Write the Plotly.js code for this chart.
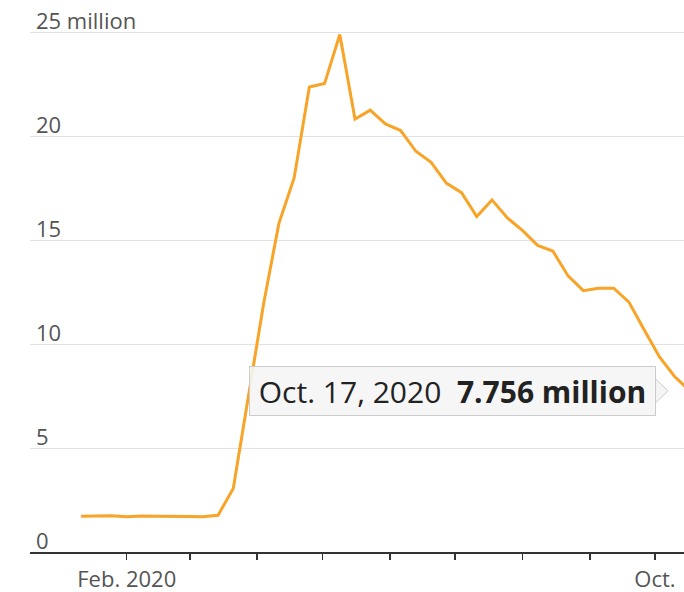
<!DOCTYPE html>
<html>
<head>
<meta charset="utf-8">
<script src="https://cdn.plot.ly/plotly-3.0.1.min.js"></script>
<style>
  html, body { margin: 0; padding: 0; background: #ffffff; }
  #chart { width: 684px; height: 592px; }
</style>
</head>
<body>
<div id="chart"></div>
<script>
// Weekly data (week ending), millions
var weeks = [
  "2020-01-11","2020-01-18","2020-01-25","2020-02-01","2020-02-08","2020-02-15","2020-02-22","2020-02-29",
  "2020-03-07","2020-03-14","2020-03-21","2020-03-28","2020-04-04","2020-04-11","2020-04-18","2020-04-25",
  "2020-05-02","2020-05-09","2020-05-16","2020-05-23","2020-05-30","2020-06-06","2020-06-13","2020-06-20",
  "2020-06-27","2020-07-04","2020-07-11","2020-07-18","2020-07-25","2020-08-01","2020-08-08","2020-08-15",
  "2020-08-22","2020-08-29","2020-09-05","2020-09-12","2020-09-19","2020-09-26","2020-10-03","2020-10-10",
  "2020-10-17"
];
var values = [
  1.72, 1.73, 1.75, 1.70, 1.73, 1.72, 1.70, 1.71,
  1.70, 1.77, 3.06, 7.45, 11.98, 15.82, 18.01, 22.38,
  22.55, 24.91, 20.84, 21.27, 20.61, 20.29, 19.29, 18.76,
  17.76, 17.30, 16.15, 16.95, 16.09, 15.48, 14.76, 14.49,
  13.29, 12.58, 12.70, 12.70, 12.03, 10.70, 9.40, 8.45,
  7.756
];
var yTickVals = [0, 5, 10, 15, 20, 25];
var yTickText = ["0", "5", "10", "15", "20", "25 million"];
var xTickVals = ["2020-02-01","2020-03-01","2020-04-01","2020-05-01","2020-06-01","2020-07-01","2020-08-01","2020-09-01","2020-10-01"];
var xTickText = ["Feb. 2020","","","","","","","","Oct."];
var tooltipDate = "Oct. 17, 2020";
var tooltipValue = "7.756 million";

var lastVal = values[values.length - 1];
var FONT = "Open Sans, Noto Sans, sans-serif";

var trace = {
  x: weeks,
  y: values,
  type: "scatter",
  mode: "lines",
  line: { color: "#f7a428", width: 3 },
  hoverinfo: "skip"
};

var layout = {
  width: 684,
  height: 592,
  margin: { l: 30, r: 0, t: 20, b: 40 },
  paper_bgcolor: "#ffffff",
  plot_bgcolor: "#ffffff",
  showlegend: false,
  font: { family: FONT, color: "#555555", size: 22 },
  xaxis: {
    type: "date",
    range: ["2019-12-18 12:00", "2020-10-14 08:00"],
    tickvals: xTickVals,
    ticktext: xTickText,
    showgrid: false,
    zeroline: false,
    showline: true,
    linecolor: "#333333",
    linewidth: 2,
    ticks: "outside",
    ticklen: 6,
    tickwidth: 1.5,
    tickcolor: "#333333",
    ticklabelstandoff: 1,
    tickfont: { family: FONT, size: 22, color: "#555555" }
  },
  yaxis: {
    range: [0, 25.61],
    tickvals: yTickVals,
    ticktext: yTickText,
    showgrid: true,
    gridcolor: "#e2e2e2",
    gridwidth: 1.2,
    zeroline: false,
    showline: false,
    ticks: "",
    ticklabelposition: "inside",
    ticklabeloverflow: "allow",
    ticklabelshift: -11,
    ticklabelstandoff: 3,
    tickfont: { family: FONT, size: 22, color: "#555555" }
  },
  annotations: [{
    xref: "paper", yref: "y",
    x: 0.9572, y: lastVal,
    xanchor: "right", yanchor: "middle",
    text: tooltipDate + "&nbsp;&nbsp;<b>" + tooltipValue + "</b>",
    showarrow: false,
    font: { family: FONT, size: 30, color: "#222222" },
    width: 393,
    height: 36,
    bgcolor: "rgba(245,245,245,0.9)",
    bordercolor: "#cccccc",
    borderwidth: 1,
    borderpad: 6
  }],
  shapes: [{
    type: "path",
    xref: "paper", yref: "y",
    ysizemode: "pixel", yanchor: lastVal,
    path: "M 0.9565,-12 L 0.9755,0 L 0.9565,12 Z",
    fillcolor: "#f5f5f5",
    line: { color: "#cccccc", width: 1 }
  }]
};

Plotly.newPlot("chart", [trace], layout, { displayModeBar: false, staticPlot: true });
</script>
</body>
</html>
